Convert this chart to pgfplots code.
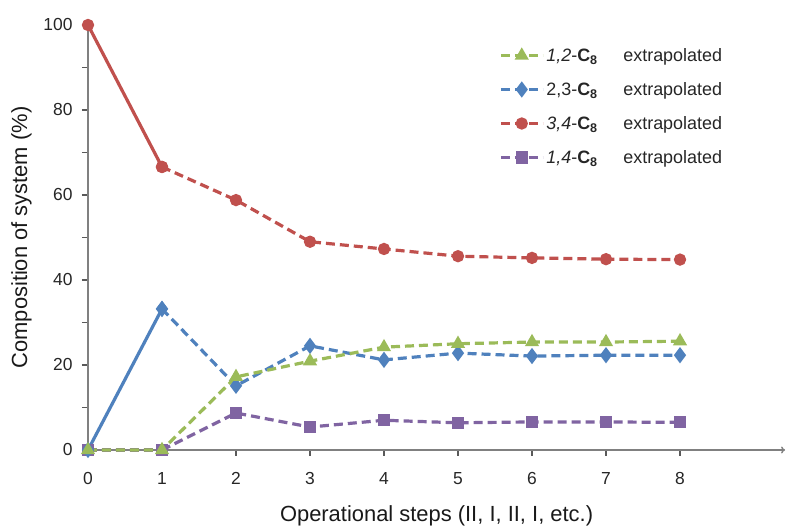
\documentclass[border=0pt]{standalone}
\usepackage{pgfplots}
\pgfplotsset{compat=1.18}
\usepackage{fontspec}
\setmainfont{Liberation Sans}
\usetikzlibrary{arrows.meta}

\definecolor{cgreen}{RGB}{155,187,89}
\definecolor{cblue}{RGB}{79,129,189}
\definecolor{cred}{RGB}{192,80,77}
\definecolor{cpurple}{RGB}{128,100,162}
\definecolor{caxis}{RGB}{128,128,128}

\newcommand{\lab}[1]{\makebox[77bp][l]{#1-\textbf{C}\textsubscript{\textbf{8}}}extrapolated}

\pgfplotsset{
    ser/.style={line width=3.2bp, dash pattern=on 9bp off 5bp, mark options={solid}},
}

\begin{document}
\begin{tikzpicture}
\begin{axis}[
    x=74bp, y=4.25bp,
    xmin=0, xmax=9.42,
    ymin=0, ymax=100,
    axis x line=bottom,
    axis y line=left,
    x axis line style={draw=caxis, line width=1.4bp, -{To[length=4bp,width=7bp]}},
    y axis line style={draw=caxis, line width=1.4bp, -},
    xtick={0,1,...,8},
    ytick={0,20,...,100},
    minor ytick={10,30,...,90},
    tick align=outside,
    major tick length=6bp,
    minor tick length=6bp,
    xtick style={draw=black!65, line width=1.4bp},
    ytick style={draw=black!65, line width=1.4bp},
    minor tick style={draw=black!65, line width=1.4bp},
    tick label style={font=\fontsize{17.5}{20}\selectfont, text=black!85},
    xticklabel style={yshift=-13bp},
    yticklabel style={xshift=-6bp},
    /pgf/number format/assume math mode=true,
    xlabel={Operational steps (II, I, II, I, etc.)},
    ylabel={Composition of system (\%)},
    label style={font=\fontsize{22}{26}\selectfont, text=black!90},
    xlabel style={yshift=-14bp},
    ylabel style={yshift=5bp},
    clip=false,
    reverse legend,
    legend style={draw=none, fill=none, at={(rel axis cs:0.917,0.955)}, anchor=north east,
        font=\fontsize{18}{21}\selectfont, row sep=15.5bp, text=black!85},
    legend cell align=left,
    legend image code/.code={
        \draw[mark repeat=2, mark phase=2] plot coordinates {(0bp,0bp) (21bp,0bp) (42bp,0bp)};
    },
]
% first step
\addplot[cpurple, ser, mark=square*, mark size=4.5bp, forget plot]
    coordinates {(0,0) (1,0)};
\addplot[cred, line width=3.2bp, solid, mark=*, mark size=4.5bp, forget plot]
    coordinates {(0,100) (1,66.6)};
\addplot[cblue, line width=3.2bp, solid, mark=diamond*, mark size=5.5bp, forget plot]
    coordinates {(0,0) (1,33.2)};

% extrapolated
\addplot[cpurple, ser, mark=square*, mark size=4.5bp]
    coordinates {(1,0) (2,8.7) (3,5.4) (4,7.0) (5,6.4) (6,6.6) (7,6.6) (8,6.5)};
\addlegendentry{\lab{\textit{1,4}}}
\addplot[cred, ser, mark=*, mark size=4.5bp]
    coordinates {(1,66.6) (2,58.8) (3,49.0) (4,47.3) (5,45.6) (6,45.2) (7,44.9) (8,44.8)};
\addlegendentry{\lab{\textit{3,4}}}
\addplot[cblue, ser, mark=diamond*, mark size=5.5bp]
    coordinates {(1,33.2) (2,15.1) (3,24.5) (4,21.2) (5,22.8) (6,22.1) (7,22.3) (8,22.3)};
\addlegendentry{\lab{2,3}}
\addplot[cgreen, ser, mark=triangle*, mark size=5bp]
    coordinates {(0,0) (1,0) (2,17.2) (3,20.9) (4,24.2) (5,25.0) (6,25.4) (7,25.4) (8,25.6)};
\addlegendentry{\lab{\textit{1,2}}}

\path (axis cs:0,0) ++(-88bp,-77bp) rectangle ++(788bp,527bp);
\end{axis}
\end{tikzpicture}
\end{document}
